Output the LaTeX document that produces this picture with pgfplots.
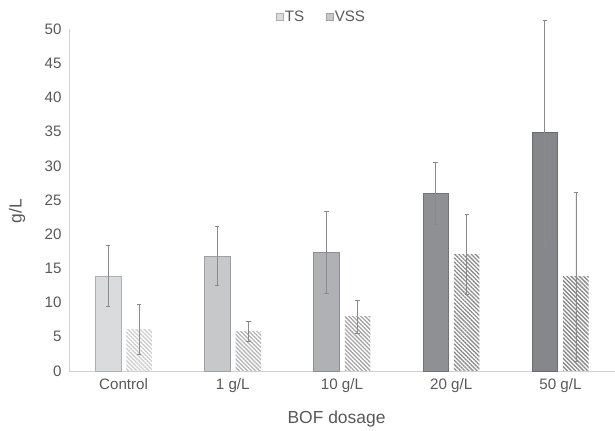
\documentclass[border=0pt]{standalone}
\usepackage{pgfplots}
\pgfplotsset{compat=1.18}
\usetikzlibrary{patterns.meta}
\usepackage{fontspec}
\setmainfont{Liberation Sans}

\definecolor{txt}{HTML}{595959}
\definecolor{axl}{HTML}{D0D0D0}
\definecolor{errc}{HTML}{8A8A8A}
% TS fills, light to dark with dosage
\definecolor{tsA}{HTML}{DADBDD}
\definecolor{tsB}{HTML}{C7C8CA}
\definecolor{tsC}{HTML}{B0B1B4}
\definecolor{tsD}{HTML}{8F9093}
\definecolor{tsE}{HTML}{86878A}
% VSS hatch colours
\definecolor{vsA}{HTML}{CDCDCD}
\definecolor{vsB}{HTML}{B5B5B5}
\definecolor{vsC}{HTML}{A5A5A5}
\definecolor{vsD}{HTML}{8C8C8C}
\definecolor{vsE}{HTML}{858585}

\tikzset{
  hatch/.style={pattern={Lines[angle=-45,distance=2.9bp,line width=1.3bp]},
                pattern color=#1, draw=none},
}

% TS bars sit at x-0.142, VSS bars at x+0.142 (one category = 1 unit)
\pgfplotsset{
  errstyle/.style={error bars/.cd, y dir=both, y explicit,
     error bar style={errc, line width=0.8bp},
     error mark options={errc, line width=0.8bp, mark size=2.2bp, rotate=90}},
  tsbar/.style={ybar, bar width=25.5bp, bar shift=0pt,
     fill=#1, draw=#1!80!black, line width=0.5bp, errstyle},
  vssbar/.style={ybar, bar width=25.5bp, bar shift=0pt,
     hatch=#1, errstyle},
}

\begin{document}
\begin{tikzpicture}
\path[use as bounding box] (0,0) rectangle (615bp,431bp);
\begin{axis}[
  at={(69bp,60bp)}, anchor=south west,
  scale only axis, width=546bp, height=342bp,
  xmin=-0.5, xmax=4.5, ymin=0, ymax=50,
  xtick={0,1,2,3,4}, xticklabels={Control,1 g/L,10 g/L,20 g/L,50 g/L},
  ytick={0,5,...,50},
  axis x line*=bottom, axis y line*=left,
  axis line style={axl, line width=0.8bp, -},
  major tick length=0pt,
  tick label style={txt, font=\fontsize{15.2}{17}\selectfont},
  /pgf/number format/assume math mode=true,
  yticklabel style={xshift=-4bp},
  xticklabel style={yshift=-4bp},
  xlabel={BOF dosage}, ylabel={g/L},
  label style={txt, font=\fontsize{17.5}{20}\selectfont},
  xlabel style={at={(axis description cs:0.49,-0.14)}, anchor=center},
  ylabel style={at={(axis description cs:-0.095,0.468)}, anchor=center, rotate=0},
  clip=false,
  legend style={at={(axis description cs:0.462,1.0365)}, anchor=center,
    draw=none, fill=none, legend columns=2,
    font=\fontsize{15.2}{17}\selectfont, text=txt,
    nodes={inner xsep=1.5bp},
    /tikz/every even column/.append style={column sep=20bp},
    inner sep=0pt},
  legend image code/.code={\path[#1] (0bp,-3.5bp) rectangle (7bp,3.5bp);},
]
% TS
\addplot[tsbar=tsA] coordinates {(-0.142,13.9) +- (0,4.5)};
\addplot[tsbar=tsB] coordinates {(0.858,16.8) +- (0,4.3)};
\addplot[tsbar=tsC] coordinates {(1.858,17.4) +- (0,6.0)};
\addplot[tsbar=tsD] coordinates {(2.858,26.0) +- (0,4.55)};
\addplot[tsbar=tsE] coordinates {(3.858,34.9) +- (0,16.4)};
% VSS
\addplot[vssbar=vsA] coordinates {(0.142,6.1) +- (0,3.7)};
\addplot[vssbar=vsB] coordinates {(1.142,5.75) +- (0,1.45)};
\addplot[vssbar=vsC] coordinates {(2.142,7.9) +- (0,2.4)};
\addplot[vssbar=vsD] coordinates {(3.142,17.05) +- (0,5.9)};
\addplot[vssbar=vsE] coordinates {(4.142,13.75) +- (0,12.3)};
\addlegendimage{fill=tsB, draw=none}
\addlegendentry{TS}
\addlegendimage{hatch=vsB}
\addlegendentry{VSS}
\end{axis}
\end{tikzpicture}
\end{document}
